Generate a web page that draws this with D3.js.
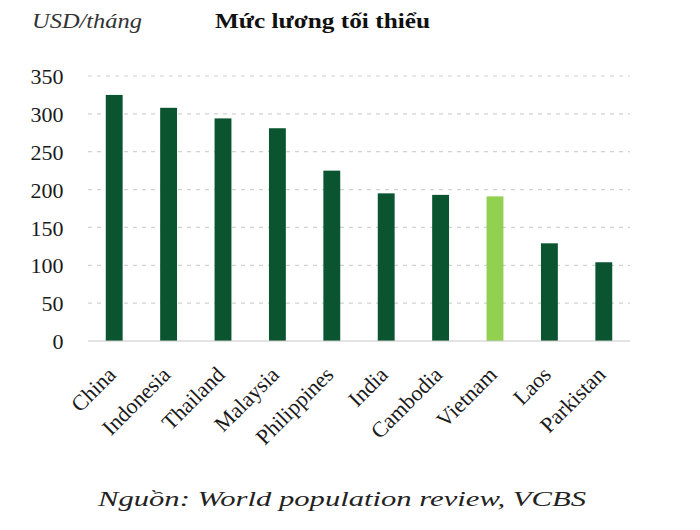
<!DOCTYPE html>
<html><head><meta charset="utf-8">
<script src="https://cdn.jsdelivr.net/npm/d3@7/dist/d3.min.js"></script>
<style>body{margin:0;background:#fff}svg{display:block}</style>
</head><body>
<script>
const categories = ["China","Indonesia","Thailand","Malaysia","Philippines","India","Cambodia","Vietnam","Laos","Parkistan"];
const values = [325, 308, 294, 281, 225, 195, 193, 191, 129, 104];
const highlight = ["Vietnam"];
const yTicks = [0, 50, 100, 150, 200, 250, 300, 350];
const titleText = "Mức lương tối thiểu";
const unitText = "USD/tháng";
const sourceText = "Nguồn: World population review, VCBS";

const W = 700, H = 530;
const serif = "Liberation Serif";
const svg = d3.select("body").append("svg").attr("width", W).attr("height", H)
  .style("font-family", serif);

const x = d3.scaleBand().domain(categories).range([87, 631]).paddingInner(0.69).paddingOuter(0.345);
const y = d3.scaleLinear().domain([0, 350]).range([341, 76]);

// gridlines
svg.append("g").selectAll("line").data(yTicks.filter(d => d > 0)).join("line")
  .attr("x1", 88).attr("x2", 630)
  .attr("y1", d => y(d)).attr("y2", d => y(d))
  .attr("stroke", "#d2d2d2").attr("stroke-width", 1.2).attr("stroke-dasharray", "4,5");

// bars
svg.append("g").selectAll("rect").data(categories).join("rect")
  .attr("x", d => x(d)).attr("width", x.bandwidth())
  .attr("y", (d, i) => y(values[i])).attr("height", (d, i) => y(0) - y(values[i]))
  .attr("fill", d => highlight.includes(d) ? "#92d050" : "#0a5430");

// baseline
svg.append("line").attr("x1", 88).attr("x2", 630).attr("y1", y(0)).attr("y2", y(0))
  .attr("stroke", "#c8c8c8").attr("stroke-width", 1.2);

// y axis
const yAxis = d3.axisLeft(y).tickValues(yTicks).tickSize(0).tickPadding(0);
const gy = svg.append("g").attr("transform", "translate(63.5,0)").call(yAxis);
gy.attr("font-family", null).attr("font-size", null);
gy.select(".domain").remove();
gy.selectAll("text").style("font-family", serif).style("font-size", "22px").attr("fill", "#1a1a1a")
  .attr("dy", "0.35em");

// x axis labels
const xAxis = d3.axisBottom(x).tickSize(0).tickPadding(0);
const gx = svg.append("g").attr("transform", `translate(0,${y(0)})`).call(xAxis);
gx.attr("font-family", null).attr("font-size", null);
gx.select(".domain").remove();
gx.selectAll("text")
  .style("font-family", serif).style("font-size", "22px").attr("fill", "#1a1a1a")
  .attr("text-anchor", "end").attr("dy", null).attr("y", 0)
  .attr("transform", "translate(3,35) rotate(-45)");

// titles
svg.append("text").attr("x", 32).attr("y", 28)
  .style("font-family", serif).style("font-style", "italic").style("font-size", "22px")
  .attr("textLength", 110).attr("lengthAdjust", "spacingAndGlyphs")
  .attr("fill", "#333").text(unitText);
svg.append("text").attr("x", 215).attr("y", 28)
  .style("font-family", serif).style("font-weight", "bold").style("font-size", "22px")
  .attr("textLength", 215).attr("lengthAdjust", "spacingAndGlyphs")
  .attr("fill", "#111").text(titleText);
svg.append("text").attr("x", 98).attr("y", 506)
  .style("font-family", serif).style("font-style", "italic").style("font-size", "22px")
  .attr("textLength", 488).attr("lengthAdjust", "spacingAndGlyphs")
  .attr("fill", "#222").text(sourceText);
</script>
</body></html>
